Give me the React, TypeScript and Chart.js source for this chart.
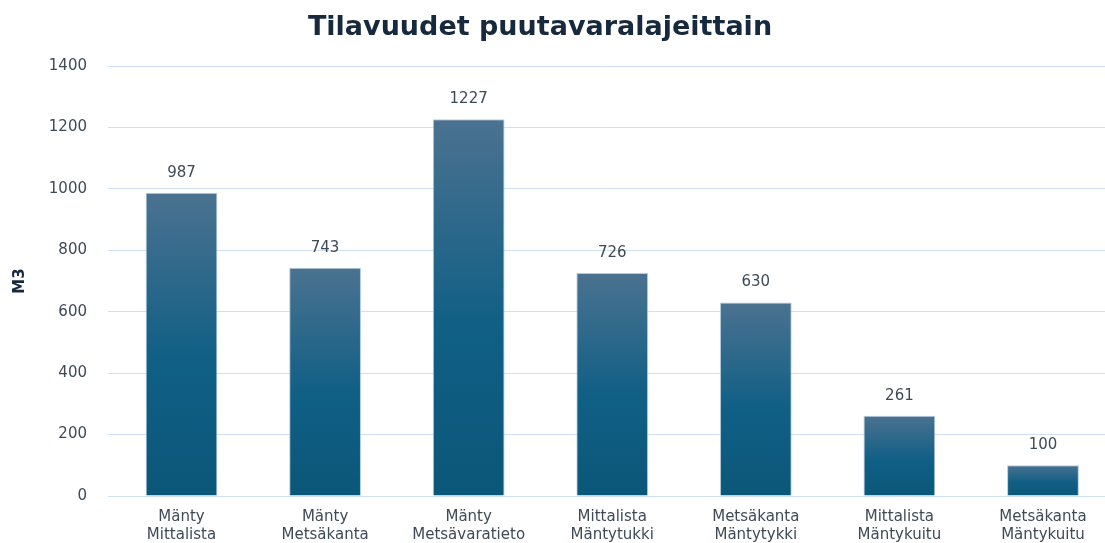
import React, { useEffect, useRef } from "react";
import { Chart, registerables } from "chart.js";

Chart.register(...registerables);

const TITLE = "Tilavuudet puutavaralajeittain";
const Y_TITLE = "M3";
const categories: string[][] = [
  ["Mänty", "Mittalista"],
  ["Mänty", "Metsäkanta"],
  ["Mänty", "Metsävaratieto"],
  ["Mittalista", "Mäntytukki"],
  ["Metsäkanta", "Mäntytykki"],
  ["Mittalista", "Mäntykuitu"],
  ["Metsäkanta", "Mäntykuitu"],
];
const values: number[] = [987, 743, 1227, 726, 630, 261, 100];
const yTicks: number[] = [0, 200, 400, 600, 800, 1000, 1200, 1400];

const FONT = "'DejaVu Sans', Verdana, sans-serif";
const TEXT = "#3f4a57";

export default function App() {
  const ref = useRef<HTMLCanvasElement | null>(null);

  useEffect(() => {
    if (!ref.current) return;

    const titlePlugin = {
      id: "customTitle",
      afterDraw(chart: any) {
        const ctx = chart.ctx;
        ctx.save();
        ctx.font = `bold 27px ${FONT}`;
        ctx.fillStyle = "#17293d";
        ctx.textAlign = "center";
        ctx.textBaseline = "middle";
        ctx.fillText(TITLE, 540, 28);
        ctx.restore();
      },
    };

    const labelPlugin = {
      id: "valueLabels",
      afterDatasetsDraw(chart: any) {
        const ctx = chart.ctx;
        const meta = chart.getDatasetMeta(0);
        ctx.save();
        ctx.font = `15px ${FONT}`;
        ctx.fillStyle = TEXT;
        ctx.textAlign = "center";
        ctx.textBaseline = "middle";
        meta.data.forEach((bar: any, i: number) => {
          ctx.fillText(String(values[i]), bar.x, bar.y - 20);
        });
        ctx.restore();
      },
    };

    const chart = new Chart(ref.current, {
      type: "bar",
      data: {
        datasets: [
          {
            data: values.map((v, i) => ({ x: i, y: v })),
            backgroundColor: (c: any) => {
              const ch = c.chart;
              const ys = ch.scales?.y;
              if (!ys || !c.parsed) return "#145f84";
              const top = ys.getPixelForValue(c.parsed.y);
              const bottom = ys.getPixelForValue(0);
              if (!isFinite(top) || !isFinite(bottom) || top === bottom) return "#145f84";
              const g = ch.ctx.createLinearGradient(0, top, 0, bottom);
              g.addColorStop(0, "#4b7290");
              g.addColorStop(0.55, "#105f85");
              g.addColorStop(1, "#0b5779");
              return g;
            },
            borderColor: "rgba(170,200,222,0.9)",
            borderWidth: 1,
            barPercentage: 0.5,
            categoryPercentage: 1,
          },
        ],
      },
      options: {
        animation: false,
        responsive: true,
        maintainAspectRatio: false,
        layout: { padding: { top: 66, left: 0, right: 0, bottom: 0 } },
        plugins: {
          legend: { display: false },
          tooltip: { enabled: false },
          title: { display: false },
        },
        scales: {
          x: {
            type: "linear",
            offset: false,
            min: -0.512,
            max: 6.432,
            grid: { display: false, drawTicks: false, offset: false },
            border: { display: false },
            afterBuildTicks: (s: any) => {
              s.ticks = categories.map((_, i) => ({ value: i }));
            },
            afterFit: (s: any) => {
              s.height = 47;
            },
            ticks: {
              autoSkip: false,
              maxRotation: 0,
              padding: 12,
              color: TEXT,
              font: { family: FONT, size: 15, lineHeight: 1.22 },
              callback: (v: any) => categories[Math.round(Number(v))] ?? "",
            },
          },
          y: {
            min: 0,
            max: 1400,
            afterBuildTicks: (s: any) => {
              s.ticks = yTicks.map((v) => ({ value: v }));
            },
            afterFit: (s: any) => {
              s.width = 108;
            },
            grid: { color: "#cfe0f2", lineWidth: 1, drawTicks: false },
            border: { display: false },
            ticks: {
              padding: 21,
              color: TEXT,
              font: { family: FONT, size: 15 },
              callback: (v: any) => String(v),
            },
            title: {
              display: true,
              text: Y_TITLE,
              color: "#17293d",
              font: { family: FONT, size: 15, weight: "bold" },
              padding: { top: 11, bottom: 0 },
            },
          },
        },
      },
      plugins: [titlePlugin, labelPlugin],
    } as any);

    return () => chart.destroy();
  }, []);

  return (
    <div style={{ position: "fixed", left: 0, top: 0, width: 1105, height: 543, background: "#fff" }}>
      <canvas ref={ref} />
    </div>
  );
}
